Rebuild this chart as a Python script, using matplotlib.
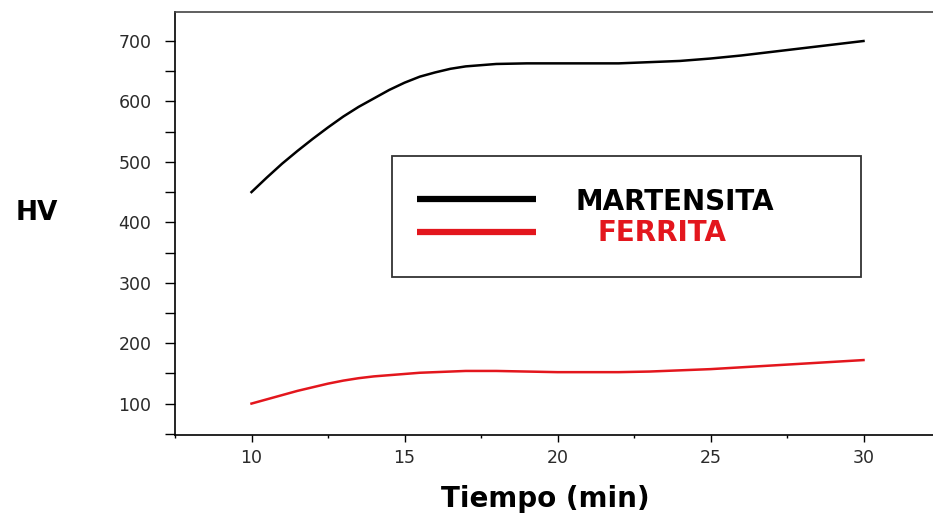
import numpy as np
import matplotlib.pyplot as plt
from matplotlib.lines import Line2D
from matplotlib.patches import Rectangle
from matplotlib.ticker import MultipleLocator

# Dureza Vickers frente al tiempo de tratamiento
tiempo = [10, 10.5, 11, 11.5, 12, 12.5, 13, 13.5, 14, 14.5, 15, 15.5, 16, 16.5, 17, 17.5, 18,
          19, 20, 21, 22, 23, 24, 25, 26, 27, 28, 29, 30]
hv_martensita = [450, 474, 497, 518, 538, 557, 575, 591, 605, 619, 631, 641, 648, 654, 658, 660, 662,
                 663, 663, 663, 663, 665, 667, 671, 676, 682, 688, 694, 700]
hv_ferrita = [100, 107, 114, 121, 127, 133, 138, 142, 145, 147, 149, 151, 152, 153, 154, 154, 154,
              153, 152, 152, 152, 153, 155, 157, 160, 163, 166, 169, 172]

etiquetas = ['MARTENSITA', 'FERRITA']
colores = ['black', '#e3161d']

fig = plt.figure(figsize=(9.33, 5.15), dpi=100)
# el eje se sale un poco por la derecha, el borde derecho queda fuera
ax = fig.add_axes([175/933, 80/515, 765/933, 423/515])

ax.plot(tiempo, hv_martensita, color=colores[0], lw=1.8)
ax.plot(tiempo, hv_ferrita, color=colores[1], lw=1.8)

ax.set_xlim(7.5, 32.5)
ax.set_ylim(48, 748)

ax.xaxis.set_major_locator(MultipleLocator(5))
ax.xaxis.set_minor_locator(MultipleLocator(2.5))
ax.yaxis.set_major_locator(MultipleLocator(100))
ax.yaxis.set_minor_locator(MultipleLocator(50))

ax.tick_params(axis='y', which='both', direction='out', length=7, width=1, pad=10,
               labelsize=12.5, labelcolor='#2a2a2a')
ax.tick_params(axis='x', which='major', direction='out', length=5, width=1, pad=5,
               labelsize=12.5, labelcolor='#2a2a2a')
ax.tick_params(axis='x', which='minor', direction='out', length=2.5, width=1)

for s in ax.spines.values():
    s.set_linewidth(1.2)
ax.spines['top'].set_color('#444444')

ax.set_xlabel('Tiempo (min)', fontsize=20, fontweight='bold', va='center')
ax.xaxis.set_label_coords(0.4837, -0.151)
ax.set_ylabel('HV', fontsize=19, fontweight='bold', rotation=0, ha='center', va='center')
ax.yaxis.set_label_coords(-0.1804, 0.525)

# leyenda dibujada a mano: caja, trazos y textos
fig.add_artist(Rectangle((392/933, 238/515), 469/933, 121/515, transform=fig.transFigure,
                         fill=False, edgecolor='#333333', lw=1.3))
fig.add_artist(Line2D([417/933, 536/933], [316/515, 316/515], transform=fig.transFigure,
                      color=colores[0], lw=4.5, solid_capstyle='butt'))
fig.add_artist(Line2D([417/933, 536/933], [283/515, 283/515], transform=fig.transFigure,
                      color=colores[1], lw=4.5, solid_capstyle='butt'))
fig.text(575/933, 313/515, etiquetas[0], color=colores[0], fontsize=20,
         fontweight='bold', va='center', ha='left')
fig.text(597/933, 282/515, etiquetas[1], color=colores[1], fontsize=20,
         fontweight='bold', va='center', ha='left')

plt.savefig('out.png', dpi=100)
